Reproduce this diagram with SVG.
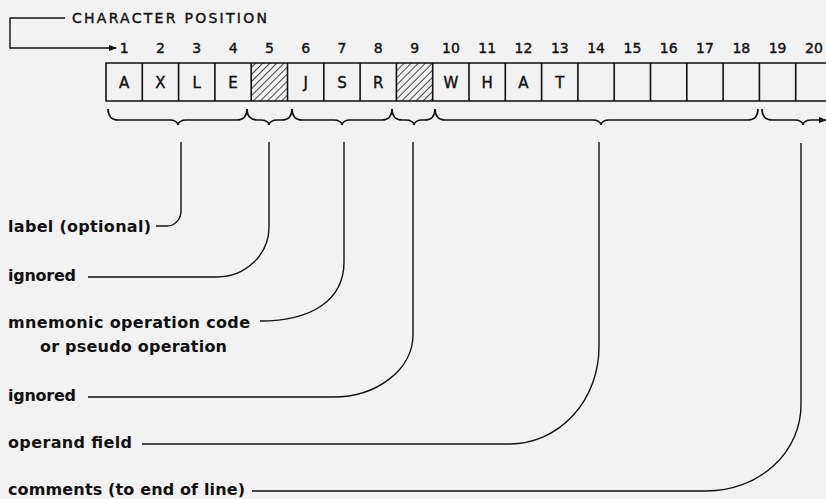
<svg xmlns="http://www.w3.org/2000/svg" width="826" height="499" viewBox="0 0 826 499">
<style>
.bg{fill:#f2f2f2}
.cell{fill:none;stroke:#111;stroke-width:1.6}
.ch{font-family:"DejaVu Sans",sans-serif;font-size:15px;fill:#111;stroke:#111;stroke-width:0.4;text-anchor:middle}
.num{font-family:"DejaVu Sans",sans-serif;font-size:14px;fill:#111;stroke:#111;stroke-width:0.4;text-anchor:middle}
.lbl{font-family:"DejaVu Sans",sans-serif;font-weight:bold;font-size:16px;fill:#111}
.ttl{font-family:"DejaVu Sans",sans-serif;font-size:14px;fill:#111;stroke:#111;stroke-width:0.4}
.ln{fill:none;stroke:#111;stroke-width:1.4}
.br{fill:none;stroke:#111;stroke-width:1.7}
</style>
<defs>
<pattern id="hatch" patternUnits="userSpaceOnUse" width="5" height="5" patternTransform="rotate(45)">
<line x1="0" y1="0" x2="0" y2="5" stroke="#111" stroke-width="1.5"/>
</pattern>
<marker id="arr" markerWidth="8" markerHeight="8" refX="7" refY="4" orient="auto" markerUnits="userSpaceOnUse">
<path d="M0,1 L8,4 L0,7 Z" fill="#111"/>
</marker>
</defs>
<rect class="bg" x="0" y="0" width="826" height="499"/>

<g id="title">
<text class="ttl" x="72" y="23" textLength="195">CHARACTER POSITION</text>
</g>

<g id="numbers">
<text class="num" x="124.2" y="53">1</text>
<text class="num" x="160.5" y="53">2</text>
<text class="num" x="196.8" y="53">3</text>
<text class="num" x="233.1" y="53">4</text>
<text class="num" x="269.4" y="53">5</text>
<text class="num" x="305.7" y="53">6</text>
<text class="num" x="342.0" y="53">7</text>
<text class="num" x="378.3" y="53">8</text>
<text class="num" x="414.6" y="53">9</text>
<text class="num" x="450.9" y="53">10</text>
<text class="num" x="487.2" y="53">11</text>
<text class="num" x="523.5" y="53">12</text>
<text class="num" x="559.8" y="53">13</text>
<text class="num" x="596.1" y="53">14</text>
<text class="num" x="632.4" y="53">15</text>
<text class="num" x="668.7" y="53">16</text>
<text class="num" x="705.0" y="53">17</text>
<text class="num" x="741.3" y="53">18</text>
<text class="num" x="777.6" y="53">19</text>
<text class="num" x="813.9" y="53">20</text>
</g>

<g id="cells">
<rect x="251.2" y="63" width="36.3" height="38" fill="url(#hatch)"/>
<rect x="396.4" y="63" width="36.3" height="38" fill="url(#hatch)"/>
<path class="cell" stroke-width="2.2" d="M830,63 H106 V101 H830"/>
<path class="cell" d="M142.3,63V101 M178.6,63V101 M214.9,63V101 M251.2,63V101 M287.5,63V101 M323.8,63V101 M360.1,63V101 M396.4,63V101 M432.7,63V101 M469,63V101 M505.3,63V101 M541.6,63V101 M577.9,63V101 M614.2,63V101 M650.5,63V101 M686.8,63V101 M723.1,63V101 M759.4,63V101 M795.7,63V101"/>
<text class="ch" x="124.2" y="88">A</text>
<text class="ch" x="160.5" y="88">X</text>
<text class="ch" x="196.8" y="88">L</text>
<text class="ch" x="233.1" y="88">E</text>
<text class="ch" x="305.7" y="88">J</text>
<text class="ch" x="342.0" y="88">S</text>
<text class="ch" x="378.3" y="88">R</text>
<text class="ch" x="450.9" y="88">W</text>
<text class="ch" x="487.2" y="88">H</text>
<text class="ch" x="523.5" y="88">A</text>
<text class="ch" x="559.8" y="88">T</text>
</g>

<g id="braces">
<path class="br" d="M108,109 C108,116 112,120 118,120 H170 C174,120 178,122 178,125 C178,122 182,120 186,120 H237 C243,120 247,116 247,109"/>
<path class="br" d="M247,109 C247,116 251,120 257,120 H261 C265,120 269,122 269,125 C269,122 273,120 277,120 H282 C288,120 292,116 292,109"/>
<path class="br" d="M292,109 C292,116 296,120 302,120 H334 C338,120 342,122 342,125 C342,122 346,120 350,120 H382 C388,120 392,116 392,109"/>
<path class="br" d="M392,109 C392,116 396,120 402,120 H406 C410,120 414,122 414,125 C414,122 418,120 422,120 H425 C431,120 435,116 435,109"/>
<path class="br" d="M435,109 C435,116 439,120 445,120 H593 C597,120 601,122 601,125 C601,122 605,120 609,120 H748 C754,120 758,116 758,109"/>
<path class="br" marker-end="url(#arr)" d="M762,109 C762,116 766,120 772,120 H795 C799,120 803,122 803,125 C803,122 807,120 811,120 H826"/>
</g>

<g id="labels">
<text class="lbl" x="8" y="232" textLength="143">label (optional)</text>
<text class="lbl" x="8" y="281" textLength="68">ignored</text>
<text class="lbl" x="8" y="328" textLength="242">mnemonic operation code</text>
<text class="lbl" x="40" y="352" textLength="187">or pseudo operation</text>
<text class="lbl" x="8" y="401" textLength="68">ignored</text>
<text class="lbl" x="8" y="448" textLength="124">operand field</text>
<text class="lbl" x="8" y="495" textLength="237">comments (to end of line)</text>
</g>

<g id="connectors">
<path class="ln" marker-end="url(#arr)" d="M65,18 H10 V48 H116"/>
<path class="ln" d="M181,142 V211 A14,15 0 0 1 167,226 H156"/>
<path class="ln" d="M269,142 V227 A52,50 0 0 1 217,277 H88"/>
<path class="ln" d="M344,142 V262 C344,300 312,321 260,321"/>
<path class="ln" d="M413,142 V335 A80,62 0 0 1 333,397 H88"/>
<path class="ln" d="M599,142 V347 A89,97 0 0 1 510,444 H142"/>
<path class="ln" d="M801,143 V405 A94,86 0 0 1 707,491 H252"/>
</g>
</svg>
